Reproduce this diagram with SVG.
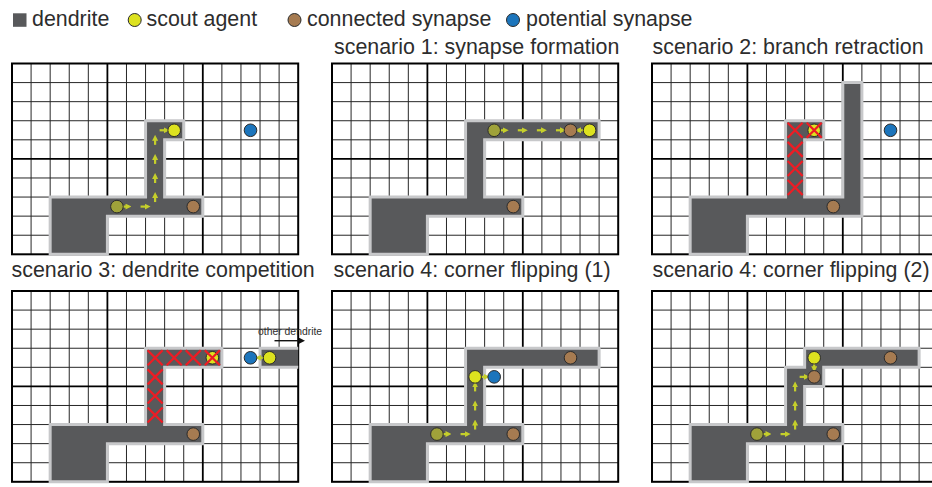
<svg xmlns="http://www.w3.org/2000/svg" xmlns:xlink="http://www.w3.org/1999/xlink" width="932" height="487" viewBox="0 0 932 487">
<style>
.thin{fill:none;stroke:#262626;stroke-width:1}
.thick{fill:none;stroke:#000;stroke-width:1.8}
.border{fill:none;stroke:#000;stroke-width:2}
.bg{fill:#fff}
.dend{fill:#58595b;stroke:#c7c8ca;stroke-width:3}
.dfill{fill:#58595b}
.dline{fill:none;stroke:#c7c8ca;stroke-width:3}
.arr{fill:none;stroke:#c5cf2b;stroke-width:2.2;marker-end:url(#ah)}
.karr{fill:none;stroke:#111;stroke-width:1.4;marker-end:url(#ahk)}
.scout{fill:#dde21f;stroke:#2b2b2b;stroke-width:1}
.old{fill:#9fa23a;stroke:#2b2b2b;stroke-width:1}
.syn{fill:#a67b51;stroke:#2b2b2b;stroke-width:1}
.pot{fill:#1c75bc;stroke:#2b2b2b;stroke-width:1}
.x{fill:none;stroke:#ed1c24;stroke-width:2.3}
.t{font-family:"Liberation Sans",Arial,sans-serif;font-size:21.4px;fill:#2d2d2d}
.small{font-family:"Liberation Sans",Arial,sans-serif;font-size:10.4px;fill:#2d2d2d}
</style>
<defs>
<marker id="ah" viewBox="0 0 6 6" refX="3" refY="3" markerWidth="6" markerHeight="6" orient="auto" markerUnits="userSpaceOnUse"><path d="M0,0L6,3L0,6z" fill="#c5cf2b"/></marker>
<marker id="ahk" viewBox="0 0 6 6" refX="3" refY="3" markerWidth="6" markerHeight="6" orient="auto" markerUnits="userSpaceOnUse"><path d="M0,0L6,3L0,6z" fill="#111"/></marker>
<g id="grid">
<rect class="bg" x="0" y="0" width="286.2" height="190.8"/>
<path class="thin" d="M19.08 0V190.8M38.16 0V190.8M57.24 0V190.8M76.32 0V190.8M114.48 0V190.8M133.56 0V190.8M152.64 0V190.8M171.72 0V190.8M209.88 0V190.8M228.96 0V190.8M248.04 0V190.8M267.12 0V190.8M0 19.08H286.2M0 38.16H286.2M0 57.24H286.2M0 76.32H286.2M0 114.48H286.2M0 133.56H286.2M0 152.64H286.2M0 171.72H286.2"/>
<path class="thick" d="M95.4 0V190.8M190.8 0V190.8M0 95.4H286.2"/>
<rect class="border" x="0" y="0" width="286.2" height="190.8"/>
</g>
<path id="xm" class="x" d="M-7.5,-7.5L7.5,7.5M7.5,-7.5L-7.5,7.5"/>
</defs>

<g id="legend">
<rect x="13" y="13.3" width="13.5" height="13.5" fill="#58595b"/>
<text class="t" x="32" y="26">dendrite</text>
<circle class="scout" cx="134.7" cy="20" r="6.5"/>
<text class="t" x="146.5" y="26">scout agent</text>
<circle class="syn" cx="294.5" cy="20" r="6.5"/>
<text class="t" x="307" y="26">connected synapse</text>
<circle class="pot" cx="513" cy="20" r="6.5"/>
<text class="t" x="526" y="26">potential synapse</text>
</g>

<g id="titles">
<text class="t" x="334" y="53.5">scenario 1: synapse formation</text>
<text class="t" x="652.5" y="53.5">scenario 2: branch retraction</text>
<text class="t" x="11.5" y="277">scenario 3: dendrite competition</text>
<text class="t" x="333.5" y="277">scenario 4: corner flipping (1)</text>
<text class="t" x="652.5" y="277">scenario 4: corner flipping (2)</text>
</g>

<g id="panel-0" transform="translate(12,63.5)">
<use href="#grid"/>
<polygon class="dend" points="38.16,133.56 133.56,133.56 133.56,57.24 171.72,57.24 171.72,76.32 152.64,76.32 152.64,133.56 190.8,133.56 190.8,152.64 95.4,152.64 95.4,190.8 38.16,190.8"/>
</g>
<g id="panel-1" transform="translate(332,63.5)">
<use href="#grid"/>
<polygon class="dend" points="38.16,133.56 133.56,133.56 133.56,57.24 267.12,57.24 267.12,76.32 152.64,76.32 152.64,133.56 190.8,133.56 190.8,152.64 95.4,152.64 95.4,190.8 38.16,190.8"/>
</g>
<g id="panel-2" transform="translate(652,63.5)">
<use href="#grid"/>
<polygon class="dend" points="38.16,133.56 133.56,133.56 133.56,57.24 171.72,57.24 171.72,76.32 152.64,76.32 152.64,133.56 190.8,133.56 190.8,19.08 209.88,19.08 209.88,152.64 95.4,152.64 95.4,190.8 38.16,190.8"/>
</g>
<g id="panel-3" transform="translate(12,291)">
<use href="#grid"/>
<polygon class="dend" points="38.16,133.56 133.56,133.56 133.56,57.24 209.88,57.24 209.88,76.32 152.64,76.32 152.64,133.56 190.8,133.56 190.8,152.64 95.4,152.64 95.4,190.8 38.16,190.8"/>
<g id="other-dendrite">
<rect class="dfill" x="248.04" y="57.24" width="38.16" height="19.08"/>
<path class="dline" d="M286.2 57.24H248.04V76.32H286.2"/>
<text class="small" x="246" y="44">other dendrite</text>
</g>
</g>
<g id="panel-4" transform="translate(332,291)">
<use href="#grid"/>
<polygon class="dend" points="38.16,133.56 133.56,133.56 133.56,57.24 267.12,57.24 267.12,76.32 152.64,76.32 152.64,133.56 190.8,133.56 190.8,152.64 95.4,152.64 95.4,190.8 38.16,190.8"/>
</g>
<g id="panel-5" transform="translate(652,291)">
<use href="#grid"/>
<polygon class="dend" points="38.16,133.56 133.56,133.56 133.56,76.32 152.64,76.32 152.64,57.24 267.12,57.24 267.12,76.32 171.72,76.32 171.72,95.4 152.64,95.4 152.64,133.56 190.8,133.56 190.8,152.64 95.4,152.64 95.4,190.8 38.16,190.8"/>
</g>

<g id="connectors">
<g transform="translate(12,63.5)">
<path class="arr" d="M109.48 143.1H116.48"/>
<path class="arr" d="M128.56 143.1H135.56"/>
<path class="arr" d="M143.1 138.56V131.56"/>
<path class="arr" d="M143.1 119.48V112.48"/>
<path class="arr" d="M143.1 100.4V93.4"/>
<path class="arr" d="M143.1 81.32V74.32"/>
<path class="arr" d="M147.64 66.78H154.64"/>
</g>
<g transform="translate(332,63.5)">
<path class="arr" d="M166.72 66.78H173.72"/>
<path class="arr" d="M185.8 66.78H192.8"/>
<path class="arr" d="M204.88 66.78H211.88"/>
<path class="arr" d="M223.96 66.78H230.96"/>
<path class="arr" d="M253.04 66.78H246.04"/>
</g>
<g transform="translate(12,291)">
<path class="arr" d="M253.04 66.78H246.04"/>
<path class="karr" d="M262.5 49.7H290"/>
</g>
<g transform="translate(332,291)">
<path class="arr" d="M109.48 143.1H116.48"/>
<path class="arr" d="M128.56 143.1H135.56"/>
<path class="arr" d="M143.1 138.56V131.56"/>
<path class="arr" d="M143.1 119.48V112.48"/>
<path class="arr" d="M143.1 100.4V93.4"/>
<path class="arr" d="M147.64 85.86H154.64"/>
</g>
<g transform="translate(652,291)">
<path class="arr" d="M109.48 143.1H116.48"/>
<path class="arr" d="M128.56 143.1H135.56"/>
<path class="arr" d="M143.1 138.56V131.56"/>
<path class="arr" d="M143.1 119.48V112.48"/>
<path class="arr" d="M143.1 100.4V93.4"/>
<path class="arr" d="M147.64 85.86H154.64"/>
<path class="arr" d="M162.18 71.32V78.32"/>
</g>
</g>

<g id="nodes">
<g id="nodes-0" transform="translate(12,63.5)">
<circle class="old" cx="104.94" cy="143.1" r="6.3"/>
<circle class="syn" cx="181.26" cy="143.1" r="6.3"/>
<circle class="scout" cx="162.18" cy="66.78" r="6.3"/>
<circle class="pot" cx="238.5" cy="66.78" r="6.3"/>
</g>
<g id="nodes-1" transform="translate(332,63.5)">
<circle class="syn" cx="181.26" cy="143.1" r="6.3"/>
<circle class="old" cx="162.18" cy="66.78" r="6.3"/>
<circle class="syn" cx="238.5" cy="66.78" r="6.3"/>
<circle class="scout" cx="257.58" cy="66.78" r="6.3"/>
</g>
<g id="nodes-2" transform="translate(652,63.5)">
<circle class="scout" cx="162.18" cy="66.78" r="6.3"/>
<circle class="syn" cx="181.26" cy="143.1" r="6.3"/>
<circle class="pot" cx="238.5" cy="66.78" r="6.3"/>
</g>
<g id="nodes-3" transform="translate(12,291)">
<circle class="syn" cx="181.26" cy="143.1" r="6.3"/>
<circle class="scout" cx="200.34" cy="66.78" r="6.3"/>
<circle class="pot" cx="238.5" cy="66.78" r="6.3"/>
<circle class="scout" cx="257.58" cy="66.78" r="6.3"/>
</g>
<g id="nodes-4" transform="translate(332,291)">
<circle class="old" cx="104.94" cy="143.1" r="6.3"/>
<circle class="syn" cx="181.26" cy="143.1" r="6.3"/>
<circle class="scout" cx="143.1" cy="85.86" r="6.3"/>
<circle class="pot" cx="162.18" cy="85.86" r="6.3"/>
<circle class="syn" cx="238.5" cy="66.78" r="6.3"/>
</g>
<g id="nodes-5" transform="translate(652,291)">
<circle class="old" cx="104.94" cy="143.1" r="6.3"/>
<circle class="syn" cx="181.26" cy="143.1" r="6.3"/>
<circle class="scout" cx="162.18" cy="66.78" r="6.3"/>
<circle class="syn" cx="162.18" cy="85.86" r="6.3"/>
<circle class="syn" cx="238.5" cy="66.78" r="6.3"/>
</g>
</g>

<g id="retraction-marks">
<g transform="translate(652,63.5)">
<use href="#xm" x="143.1" y="66.78"/>
<use href="#xm" x="143.1" y="85.86"/>
<use href="#xm" x="143.1" y="104.94"/>
<use href="#xm" x="143.1" y="124.02"/>
<use href="#xm" x="162.18" y="66.78"/>
</g>
<g transform="translate(12,291)">
<use href="#xm" x="143.1" y="66.78"/>
<use href="#xm" x="162.18" y="66.78"/>
<use href="#xm" x="181.26" y="66.78"/>
<use href="#xm" x="200.34" y="66.78"/>
<use href="#xm" x="143.1" y="85.86"/>
<use href="#xm" x="143.1" y="104.94"/>
<use href="#xm" x="143.1" y="124.02"/>
</g>
</g>
</svg>
